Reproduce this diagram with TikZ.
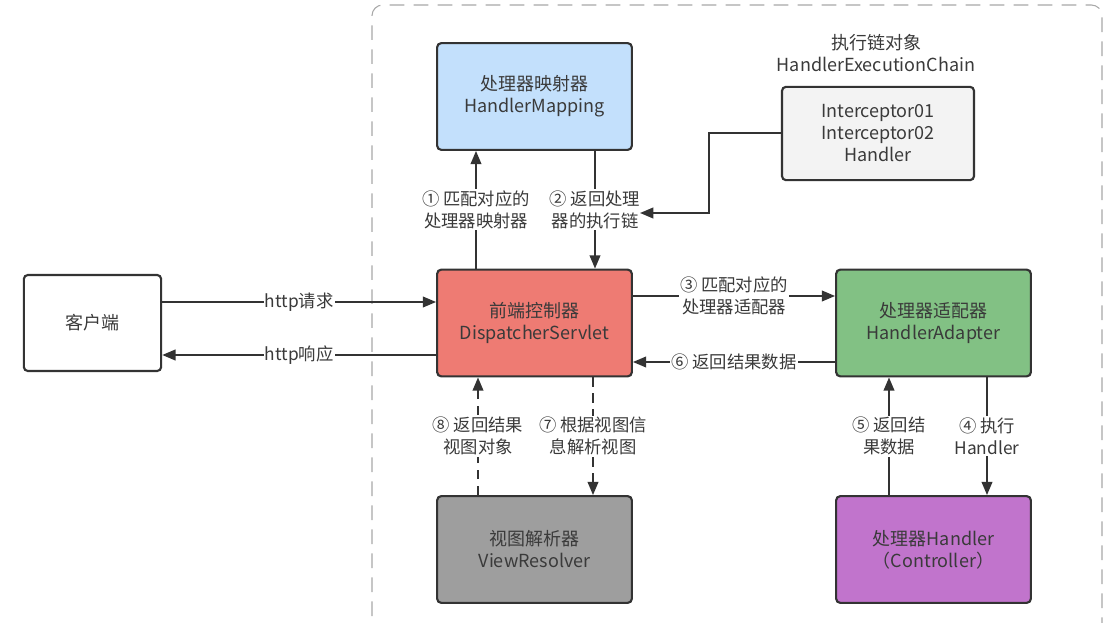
\documentclass[tikz,border=0pt]{standalone}
\usepackage{fontspec}
\setmainfont{Noto Sans CJK SC}
\usetikzlibrary{arrows.meta}
\definecolor{edge}{HTML}{333333}
\definecolor{txt}{HTML}{3A3A3A}
\definecolor{hmfill}{HTML}{C3E0FC}
\definecolor{dsfill}{HTML}{EE7B73}
\definecolor{hafill}{HTML}{82C184}
\definecolor{vrfill}{HTML}{9E9E9E}
\definecolor{hdfill}{HTML}{C174CC}
\definecolor{chfill}{HTML}{F3F3F3}
\definecolor{frame}{HTML}{A8A8A8}
\tikzset{
  box/.style={draw=edge, line width=1.6pt, rounded corners=3pt, minimum width=146pt, minimum height=80pt,
    align=center, text=txt, font=\fontsize{13.5}{16.5}\selectfont},
  arr/.style={draw=edge, line width=1.5pt, -{Triangle[length=10pt,width=8pt]}},
  dasharr/.style={arr, dash pattern=on 7pt off 5pt},
  lbl/.style={fill=white, inner sep=1pt, align=center, text=txt, font=\fontsize{13}{16.5}\selectfont},
}
\begin{document}
\begin{tikzpicture}[x=0.75pt,y=-0.75pt]
\useasboundingbox (0,0) rectangle (1113,623);
% outer dashed frame
\draw[frame, line width=0.8pt, dash pattern=on 11pt off 7pt, rounded corners=8pt]
  (372,640) -- (372,5) -- (1102,5) -- (1102,640);
% boxes
\node[box, minimum width=103pt, minimum height=72pt, fill=white] (client) at (92.5,323) {客户端};
\node[box, fill=hmfill] (hm) at (534.5,96.5) {处理器映射器\\HandlerMapping};
\node[box, fill=chfill, minimum width=144pt, minimum height=70pt] (chain) at (878,133.5) {Interceptor01\\Interceptor02\\Handler};
\node[align=center, text=txt, font=\fontsize{13.5}{16.5}\selectfont, anchor=south] (chaintitle) at (876,76) {执行链对象\\HandlerExecutionChain};
\node[box, fill=dsfill] (ds) at (534.5,323) {前端控制器\\DispatcherServlet};
\node[box, fill=hafill] (ha) at (933.5,323) {处理器适配器\\HandlerAdapter};
\node[box, fill=vrfill] (vr) at (534.5,549.5) {视图解析器\\ViewResolver};
\node[box, fill=hdfill] (hd) at (933.5,549.5) {处理器Handler\\（Controller）};
% connectors
\draw[arr] (476,0 |- ds.north) -- node[lbl]{① 匹配对应的\\处理器映射器} (476,0 |- hm.south);
\draw[arr] (595,0 |- hm.south) -- node[lbl]{② 返回处理\\器的执行链} (595,0 |- ds.north);
\coordinate (chainend) at (640,213);
\draw[arr] (chain.west) -- ++(-72,0) |- (chainend);
\draw[arr] (client.east |- 0,302) -- node[lbl]{http请求} (ds.west |- 0,302);
\draw[arr] (ds.west |- 0,355) -- node[lbl]{http响应} (client.east |- 0,355);
\draw[arr] (ds.east |- 0,296) -- node[lbl]{③ 匹配对应的\\处理器适配器} (ha.west |- 0,296);
\draw[arr] (ha.west |- 0,362) -- node[lbl]{⑥ 返回结果数据} (ds.east |- 0,362);
\draw[arr] (987,0 |- ha.south) -- node[lbl]{④ 执行\\Handler} (987,0 |- hd.north);
\draw[arr] (889,0 |- hd.north) -- node[lbl]{⑤ 返回结\\果数据} (889,0 |- ha.south);
\draw[dasharr] (478,0 |- vr.north) -- node[lbl]{⑧ 返回结果\\视图对象} (478,0 |- ds.south);
\draw[dasharr] (593,0 |- ds.south) -- node[lbl]{⑦ 根据视图信\\息解析视图} (593,0 |- vr.north);
\end{tikzpicture}
\end{document}
